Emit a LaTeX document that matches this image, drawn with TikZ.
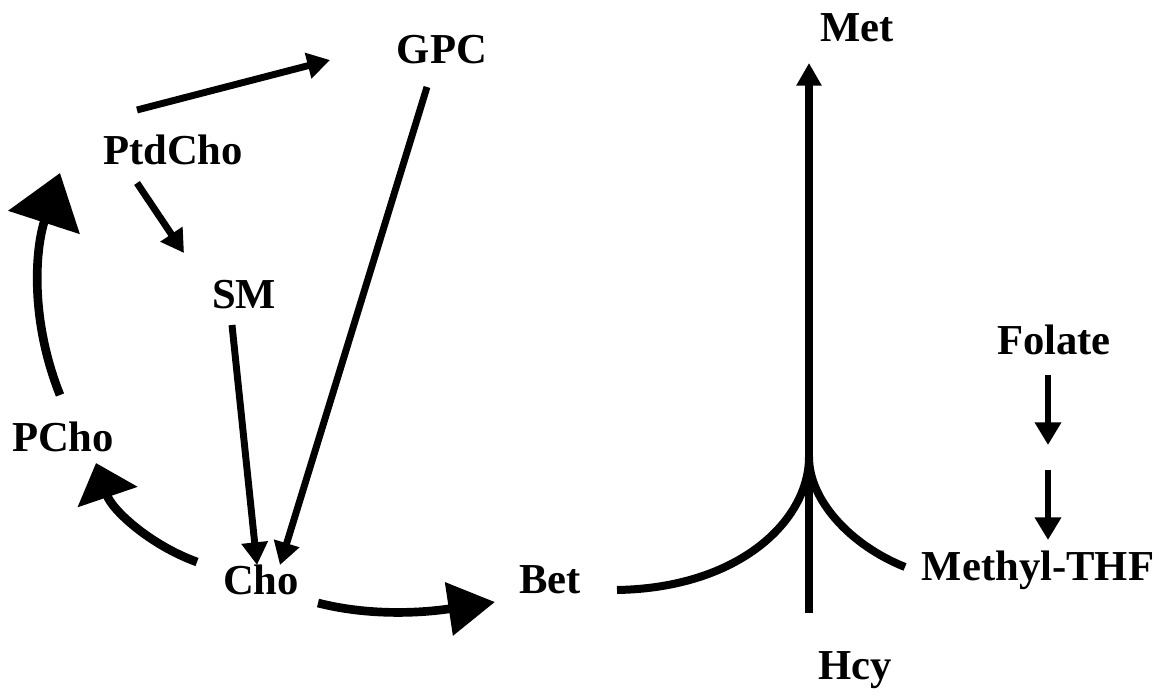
\documentclass[tikz,border=0pt]{standalone}
\usepackage{fontspec}
\setmainfont{Liberation Serif}
\usetikzlibrary{arrows.meta}
\begin{document}
\begin{tikzpicture}[x=0.75pt,y=-0.75pt,
  lbl/.style={font=\fontsize{32}{36}\selectfont\bfseries, inner sep=0pt},
  thin arrow/.style={line width=5.2pt, -{Triangle[length=17pt,width=19pt]}},
  thick line/.style={line width=6.5pt},
  ]
\useasboundingbox (0,0) rectangle (1163,698);
% nodes
\node[lbl] (met) at (857,28) {Met};
\node[lbl] (gpc) at (442,50) {GPC};
\node[lbl] (ptd) at (173,150) {PtdCho};
\node[lbl] (sm) at (244,295) {SM};
\node[lbl] (fol) at (1054,340) {Folate};
\node[lbl] (pcho) at (63,437) {PCho};
\node[lbl] (cho) at (261,580) {Cho};
\node[lbl] (bet) at (550,580) {Bet};
\node[lbl] (mthf) at (1038,570) {Methyl-THF};
\node[lbl] (hcy) at (855,670) {Hcy};
% endpoints
\coordinate (a1s) at (137,110); \coordinate (a1e) at (330,60);
\coordinate (a2s) at (137,183); \coordinate (a2e) at (184,253);
\coordinate (a3s) at (427,87);  \coordinate (a3e) at (280,565);
\coordinate (a4s) at (232,325); \coordinate (a4e) at (257,565);
\coordinate (f1s) at (1048,375); \coordinate (f1e) at (1048,445);
\coordinate (f2s) at (1048,470); \coordinate (f2e) at (1048,540);
\coordinate (cbS) at (318,603); \coordinate (cbE) at (495,602);
\coordinate (cpS) at (197,562); \coordinate (cpE) at (96,463);
\coordinate (ppS) at (60,395);  \coordinate (ppE) at (60,173);
\coordinate (hS) at (809,613);  \coordinate (mE) at (809,63);
\coordinate (jn) at (809,457);
\coordinate (bS) at (617,590);  \coordinate (tS) at (905,567);
% straight arrows
\draw[thin arrow] (a1s) -- (a1e);
\draw[thin arrow] (a2s) -- (a2e);
\draw[thin arrow] (a3s) -- (a3e);
\draw[thin arrow] (a4s) -- (a4e);
\draw[thin arrow] (f1s) -- (f1e);
\draw[thin arrow] (f2s) -- (f2e);
% curved big arrows
\draw[thick line, -{Triangle[length=35pt,width=39pt]}] (cbS) .. controls (365,615) and (415,614) .. (cbE);
\draw[thick line, -{Triangle[length=27pt,width=46pt]}] (cpS) .. controls (150,545) and (112,510) .. (cpE);
\draw[thick line, -{Triangle[length=39pt,width=55pt]}] (ppS) .. controls (30,320) and (35,250) .. (ppE);
% methionine synthesis
\draw[line width=6pt, -{Triangle[length=17pt,width=18pt]}] (hS) -- (mE);
\draw[line width=6pt] (bS) .. controls (740,588) and (809,520) .. (jn);
\draw[line width=6pt] (tS) .. controls (850,545) and (809,500) .. (jn);
\end{tikzpicture}
\end{document}
